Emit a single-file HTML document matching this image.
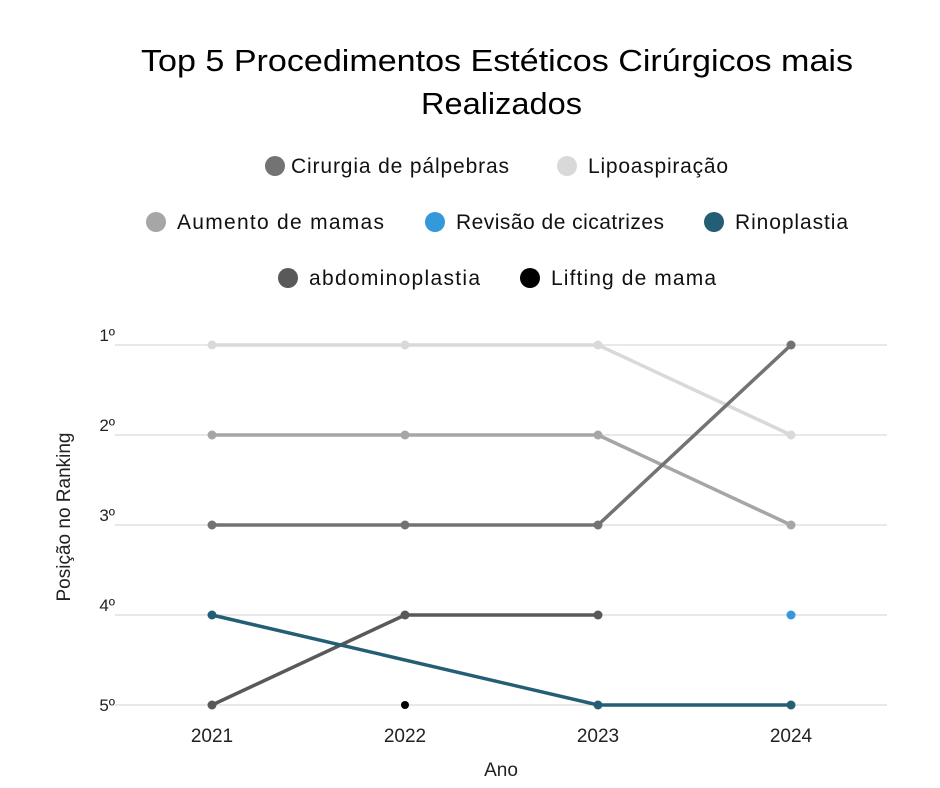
<!DOCTYPE html>
<html><head><meta charset="utf-8"><style>
body{margin:0;background:#fff;}
svg{display:block;font-family:"Liberation Sans","DejaVu Sans",sans-serif;}
</style></head><body>
<svg width="940" height="788" viewBox="0 0 940 788">
<text x="141" y="71" font-size="31" textLength="712" lengthAdjust="spacingAndGlyphs" fill="#000">Top 5 Procedimentos Estéticos Cirúrgicos mais</text>
<text x="421" y="114" font-size="31" textLength="161" lengthAdjust="spacingAndGlyphs" fill="#000">Realizados</text>
<g font-size="21" fill="#111" lengthAdjust="spacingAndGlyphs">
<circle cx="275" cy="166" r="10" fill="#737373"/><text x="291" y="173" textLength="218">Cirurgia de pálpebras</text>
<circle cx="567" cy="166" r="10" fill="#d9d9d9"/><text x="588" y="173" textLength="140">Lipoaspiração</text>
<circle cx="156" cy="222" r="10" fill="#a6a6a6"/><text x="177" y="229" textLength="207">Aumento de mamas</text>
<circle cx="435" cy="222" r="10" fill="#3498db"/><text x="456" y="229" textLength="208">Revisão de cicatrizes</text>
<circle cx="714" cy="222" r="10" fill="#245e75"/><text x="735" y="229" textLength="113">Rinoplastia</text>
<circle cx="288" cy="278" r="10" fill="#595959"/><text x="309" y="285" textLength="171">abdominoplastia</text>
<circle cx="530" cy="278" r="10" fill="#000"/><text x="551" y="285" textLength="165">Lifting de mama</text>
</g>
<g stroke="#d0d0d0" stroke-width="1">
<line x1="115" x2="887" y1="345" y2="345"/><line x1="115" x2="887" y1="435" y2="435"/>
<line x1="115" x2="887" y1="525" y2="525"/><line x1="115" x2="887" y1="615" y2="615"/>
<line x1="115" x2="887" y1="705" y2="705"/>
</g>
<g font-size="17" fill="#222" text-anchor="end">
<text x="115" y="341">1º</text><text x="115" y="431">2º</text><text x="115" y="521">3º</text><text x="115" y="611">4º</text><text x="115" y="711">5º</text>
</g>
<g font-size="19" fill="#222" text-anchor="middle">
<text x="212" y="742">2021</text><text x="405" y="742">2022</text><text x="598" y="742">2023</text><text x="791" y="742">2024</text>
<text x="501" y="776">Ano</text>
<text transform="translate(70,517) rotate(-90)">Posição no Ranking</text>
</g>
<g fill="none" stroke-width="3.5">
<polyline points="212,345 405,345 598,345 791,435" stroke="#d9d9d9"/>
<polyline points="212,435 405,435 598,435 791,525" stroke="#a6a6a6"/>
<polyline points="212,525 405,525 598,525 791,345" stroke="#737373"/>
<polyline points="212,705 405,615 598,615" stroke="#595959"/>
<polyline points="212,615 598,705 791,705" stroke="#245e75"/>
</g>
<g fill="#d9d9d9"><circle cx="212" cy="345" r="4.5"/><circle cx="405" cy="345" r="4.5"/><circle cx="598" cy="345" r="4.5"/><circle cx="791" cy="435" r="4.5"/></g>
<g fill="#a6a6a6"><circle cx="212" cy="435" r="4.5"/><circle cx="405" cy="435" r="4.5"/><circle cx="598" cy="435" r="4.5"/><circle cx="791" cy="525" r="4.5"/></g>
<g fill="#737373"><circle cx="212" cy="525" r="4.5"/><circle cx="405" cy="525" r="4.5"/><circle cx="598" cy="525" r="4.5"/><circle cx="791" cy="345" r="4.5"/></g>
<g fill="#595959"><circle cx="212" cy="705" r="4.5"/><circle cx="405" cy="615" r="4.5"/><circle cx="598" cy="615" r="4.5"/></g>
<g fill="#245e75"><circle cx="212" cy="615" r="4.5"/><circle cx="598" cy="705" r="4.5"/><circle cx="791" cy="705" r="4.5"/></g>
<circle cx="791" cy="615" r="4.5" fill="#3498db"/>
<circle cx="405" cy="705" r="4" fill="#000"/>
</svg>
</body></html>
